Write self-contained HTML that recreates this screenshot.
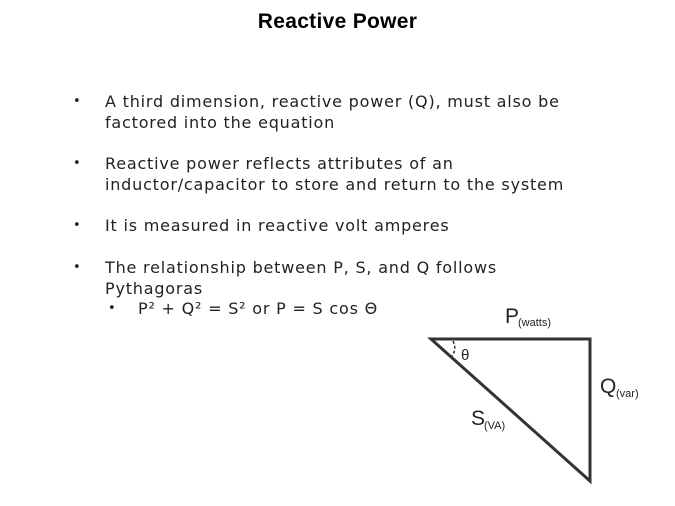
<!DOCTYPE html>
<html><head><style>
body{margin:0;width:675px;height:506px;background:#fff;position:relative;overflow:hidden;font-family:"DejaVu Sans","Liberation Sans",sans-serif;color:#222}
.t{position:absolute;left:0;width:675px;top:10px;text-align:center;font:bold 21px "Liberation Sans",sans-serif;color:#000;letter-spacing:0.3px}
.p{position:absolute;left:105px;font-size:16px;letter-spacing:0.8px;line-height:21px;white-space:nowrap}
.b{position:absolute;left:73px;font-size:13px}
</style></head><body>
<div class="t">Reactive Power</div>
<div class="b" style="top:94px">•</div>
<div class="p" style="top:91px">A third dimension, reactive power (Q), must also be<br>factored into the equation</div>
<div class="b" style="top:156px">•</div>
<div class="p" style="top:153px">Reactive power reflects attributes of an<br>inductor/capacitor to store and return to the system</div>
<div class="b" style="top:218px">•</div>
<div class="p" style="top:215px">It is measured in reactive volt amperes</div>
<div class="b" style="top:260px">•</div>
<div class="p" style="top:257px">The relationship between P, S, and Q follows<br>Pythagoras</div>
<div class="b" style="top:301px;left:108px">•</div>
<div class="p" style="top:298px;left:138px">P² + Q² = S² or P = S cos Θ</div>
<svg style="position:absolute;left:0;top:0" width="675" height="506">
<path d="M431 339 L590 339 L590 481 Z" fill="none" stroke="#333" stroke-width="3" stroke-linejoin="miter"/>
<path d="M453 341 Q457 349 452 356" fill="none" stroke="#333" stroke-width="1.5" stroke-dasharray="3,2"/>
<g font-family="Liberation Sans,sans-serif" fill="#222">
<text x="505" y="323" font-size="21">P</text><text x="518" y="326" font-size="11">(watts)</text>
<text x="461" y="360" font-size="15">θ</text>
<text x="600" y="393" font-size="21">Q</text><text x="616" y="397" font-size="11">(var)</text>
<text x="471" y="425" font-size="21">S</text><text x="484" y="429" font-size="11">(VA)</text>
</g>
</svg>
</body></html>
